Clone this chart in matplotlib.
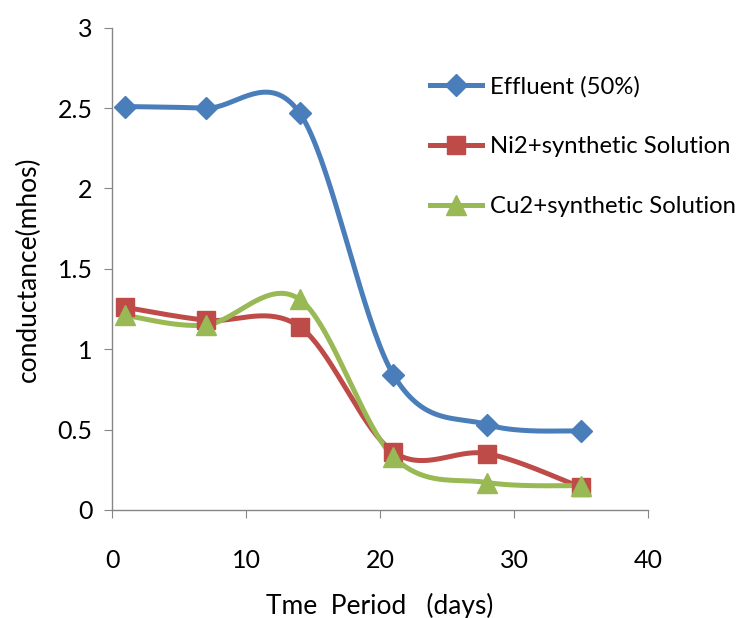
import numpy as np
import matplotlib
matplotlib.use("Agg")
import matplotlib.pyplot as plt

plt.rcParams['font.family'] = ['Lato', 'DejaVu Sans']

days = [1, 7, 14, 21, 28, 35]
effluent = [2.51, 2.50, 2.47, 0.84, 0.53, 0.49]
ni2 = [1.26, 1.18, 1.14, 0.36, 0.35, 0.14]
cu2 = [1.21, 1.15, 1.31, 0.33, 0.17, 0.15]

labels = ["Effluent (50%)", "Ni2+synthetic Solution", "Cu2+synthetic Solution"]
colors = ["#4A7EBB", "#BE4B48", "#98B954"]
markers = ["D", "s", "^"]
msizes = [11, 13, 14]


def bezier_sample(x, y, steps=40):
    # Excel style smoothing: cubic bezier with catmull-rom control points
    pts = np.column_stack([x, y]).astype(float)
    n = len(pts)
    out = []
    t = np.linspace(0, 1, steps)[:, None]
    for i in range(n - 1):
        p0 = pts[i - 1] if i > 0 else pts[i]
        p1 = pts[i]
        p2 = pts[i + 1]
        p3 = pts[i + 2] if i + 2 < n else pts[i + 1]
        c1 = p1 + (p2 - p0) / 6.0
        c2 = p2 - (p3 - p1) / 6.0
        seg = ((1 - t) ** 3) * p1 + 3 * ((1 - t) ** 2) * t * c1 + 3 * (1 - t) * t ** 2 * c2 + t ** 3 * p2
        out.append(seg if i == 0 else seg[1:])
    out = np.vstack(out)
    return out[:, 0], out[:, 1]


fig = plt.figure(figsize=(7.47, 6.18), dpi=100)
ax = fig.add_axes([0.150, 0.175, 0.7175, 0.78])

for vals, lab, col, mk, ms in zip([effluent, ni2, cu2], labels, colors, markers, msizes):
    sx, sy = bezier_sample(days, vals)
    ax.plot(sx, sy, color=col, lw=3.6, solid_capstyle="round", zorder=2)
    ax.plot(days, vals, linestyle="none", marker=mk, ms=ms, color=col, zorder=3)
    ax.plot([], [], color=col, lw=3.6, marker=mk, ms=ms, label=lab)

ax.set_xlim(0, 40)
ax.set_ylim(0, 3)
ax.set_xticks([0, 10, 20, 30, 40])
ax.set_yticks([0, 0.5, 1, 1.5, 2, 2.5, 3])
ax.set_yticklabels(["0", "0.5", "1", "1.5", "2", "2.5", "3"])

for s in ["top", "right"]:
    ax.spines[s].set_visible(False)
for s in ["left", "bottom"]:
    ax.spines[s].set_color("#868686")
    ax.spines[s].set_linewidth(1.0)
ax.tick_params(axis="both", direction="out", length=6, color="#868686", labelsize=18)
ax.tick_params(axis="x", pad=22)
ax.tick_params(axis="y", pad=8)

ax.set_xlabel("Tme  Period   (days)", fontsize=19, labelpad=15)
ax.set_ylabel("conductance(mhos)", fontsize=19, labelpad=12)

leg = ax.legend(loc="upper left", bbox_to_anchor=(0.593, 0.90), frameon=False,
                fontsize=17.2, handlelength=2.2, labelspacing=1.63, handletextpad=0.3,
                borderaxespad=0, borderpad=0)

fig.savefig("out.png", dpi=100)
